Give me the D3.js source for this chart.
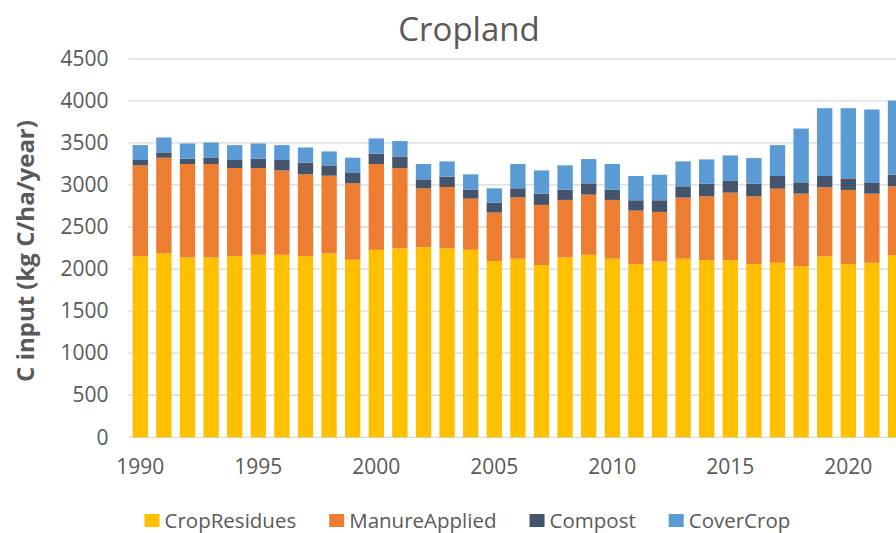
<!DOCTYPE html>
<html>
<head>
<meta charset="utf-8">
<script src="https://cdn.jsdelivr.net/npm/d3@7"></script>
<style>
  body { margin: 0; background: #fff; }
  svg { display: block; font-family: 'Open Sans', sans-serif; }
</style>
</head>
<body>
<svg class="chart" width="896" height="533"></svg>
<script>
const years = d3.range(1990, 2023)
const seriesNames = ['CropResidues', 'ManureApplied', 'Compost', 'CoverCrop']
const colors = ['#FFC000', '#ED7D31', '#44546A', '#5B9BD5']

const cropResidues = [2153, 2186, 2138, 2138, 2153, 2170, 2170, 2153, 2186, 2111,
  2229, 2245, 2260, 2245, 2229, 2094, 2123, 2047, 2138, 2170,
  2123, 2059, 2091, 2123, 2106, 2106, 2059, 2075, 2031, 2150,
  2059, 2075, 2165]
const manureApplied = [1080, 1138, 1111, 1111, 1049, 1032, 1003, 973, 924, 908,
  1020, 957, 700, 731, 609, 578, 730, 716, 684, 715,
  699, 636, 589, 727, 759, 803, 806, 881, 866, 822,
  882, 822, 819]
const compost = [64, 63, 63, 78, 95, 110, 124, 139, 123, 123,
  122, 137, 107, 123, 106, 118, 107, 134, 122, 134,
  122, 123, 138, 134, 151, 139, 151, 151, 134, 135,
  137, 134, 138]
const coverCrop = [177, 178, 181, 178, 177, 181, 177, 181, 166, 182,
  182, 183, 182, 181, 182, 170, 289, 276, 289, 289,
  305, 289, 304, 296, 288, 303, 304, 367, 640, 806,
  835, 866, 881]

const yTicks = d3.range(0, 4501, 500)
const xTickYears = [1990, 1995, 2000, 2005, 2010, 2015, 2020]

const textColor = '#595959'
const plot = { left: 128.5, top: 58.8, bottom: 437.3, step: 23.6 }

const rows = years.map((y, i) => ({
  year: y,
  CropResidues: cropResidues[i],
  ManureApplied: manureApplied[i],
  Compost: compost[i],
  CoverCrop: coverCrop[i]
}))

const svg = d3.select('svg.chart')

const x = d3.scaleBand()
  .domain(years)
  .range([plot.left, plot.left + plot.step * years.length])
  .paddingInner(0.35)
  .paddingOuter(0.175)

const y = d3.scaleLinear()
  .domain([0, 4500])
  .range([plot.bottom, plot.top])

// gridlines
svg.append('g')
  .selectAll('line')
  .data(yTicks)
  .join('line')
  .attr('x1', plot.left)
  .attr('x2', 896)
  .attr('y1', d => y(d))
  .attr('y2', d => y(d))
  .attr('stroke', '#d9d9d9')
  .attr('stroke-width', 1.3)

// y tick labels
const yAxis = svg.append('g')
  .attr('transform', `translate(${plot.left}, 0)`)
  .call(d3.axisLeft(y).tickValues(yTicks).tickFormat(d3.format('d')).tickSize(0).tickPadding(20))
yAxis.select('.domain').remove()
yAxis.selectAll('text')
  .attr('fill', textColor)
  .style('font-size', '21px')
  .style('font-family', "'Open Sans', sans-serif")

// stacked bars
const stack = d3.stack().keys(seriesNames)(rows)
svg.append('g')
  .selectAll('g')
  .data(stack)
  .join('g')
  .attr('fill', (d, i) => colors[i])
  .selectAll('rect')
  .data(d => d)
  .join('rect')
  .attr('x', d => x(d.data.year))
  .attr('width', x.bandwidth())
  .attr('y', d => y(d[1]))
  .attr('height', d => y(d[0]) - y(d[1]))

// x tick labels
const xAxis = svg.append('g')
  .attr('transform', `translate(0, ${plot.bottom})`)
  .call(d3.axisBottom(x).tickValues(xTickYears).tickSize(0).tickPadding(22))
xAxis.select('.domain').remove()
xAxis.selectAll('text')
  .attr('fill', textColor)
  .style('font-size', '21px')
  .style('font-family', "'Open Sans', sans-serif")

// title
svg.append('text')
  .attr('x', 469)
  .attr('y', 41)
  .attr('text-anchor', 'middle')
  .attr('fill', textColor)
  .style('font-size', '33px')
  .text('Cropland')

// y axis title
svg.append('text')
  .attr('transform', 'translate(34, 251) rotate(-90)')
  .attr('text-anchor', 'middle')
  .attr('fill', textColor)
  .style('font-size', '24px')
  .style('font-weight', 'bold')
  .text('C input (kg C/ha/year)')

// legend
const legend = svg.append('g').attr('transform', 'translate(0, 521)')
const items = legend.selectAll('g')
  .data(seriesNames)
  .join('g')
items.append('rect')
  .attr('y', -7)
  .attr('width', 15)
  .attr('height', 13)
  .attr('fill', (d, i) => colors[i])
items.append('text')
  .attr('x', 20)
  .attr('dy', '0.35em')
  .attr('fill', textColor)
  .style('font-size', '20.5px')
  .text(d => d)

let cx = 0
const offsets = []
items.each(function () {
  offsets.push(cx)
  cx += 20 + d3.select(this).select('text').node().getComputedTextLength() + 33
})
const totalW = cx - 33
const startX = 467.4 - totalW / 2
items.attr('transform', (d, i) => `translate(${startX + offsets[i]}, 0)`)
</script>
</body>
</html>
